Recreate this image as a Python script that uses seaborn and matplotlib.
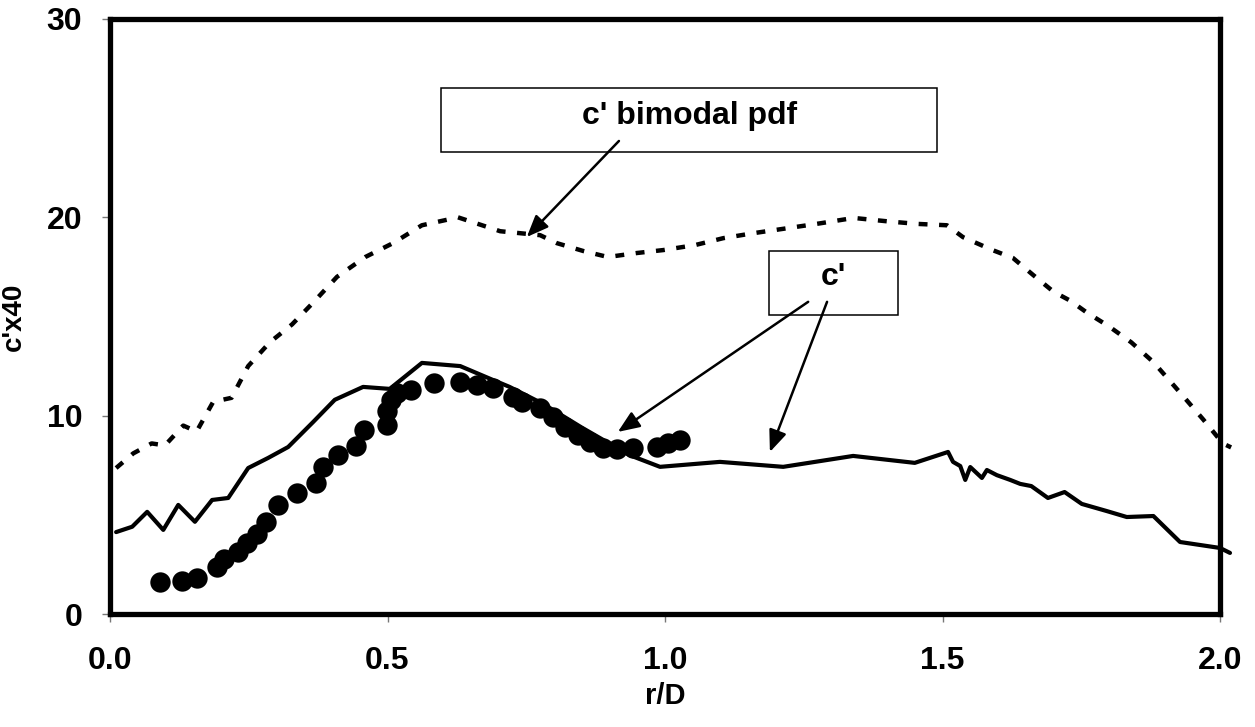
import matplotlib
matplotlib.use("Agg")
import matplotlib.pyplot as plt
import seaborn as sns
import pandas as pd
from matplotlib.patches import Rectangle

# ---- data ----
pdf_x = [0.011, 0.042, 0.075, 0.099, 0.132, 0.156, 0.186, 0.219, 0.249, 0.288,
         0.328, 0.366, 0.409, 0.46, 0.51, 0.562, 0.627, 0.703, 0.775, 0.805,
         0.853, 0.897, 0.949, 0.997, 1.054, 1.105, 1.159, 1.22, 1.28, 1.34,
         1.40, 1.454, 1.508, 1.537, 1.59, 1.627, 1.663, 1.70, 1.73, 1.76,
         1.80, 1.84, 1.88, 1.93, 1.97, 2.005, 2.02]
pdf_y = [7.36, 8.1, 8.6, 8.5, 9.5, 9.2, 10.7, 10.9, 12.5, 13.7,
         14.6, 15.7, 17.0, 18.0, 18.7, 19.6, 20.0, 19.3, 19.1, 18.7,
         18.3, 18.0, 18.2, 18.35, 18.6, 18.95, 19.2, 19.45, 19.7, 19.97,
         19.8, 19.67, 19.6, 19.0, 18.35, 17.95, 17.1, 16.25, 15.8, 15.2,
         14.5, 13.7, 12.7, 11.1, 9.8, 8.6, 8.4]

c_x = [0.011, 0.04, 0.067, 0.096, 0.123, 0.153, 0.184, 0.213, 0.249, 0.285,
       0.321, 0.366, 0.405, 0.456, 0.504, 0.562, 0.631, 0.69, 0.72, 0.78,
       0.85, 0.937, 0.991, 1.099, 1.213, 1.339, 1.45, 1.51, 1.519, 1.532,
       1.541, 1.55, 1.571, 1.58, 1.598, 1.622, 1.64, 1.66, 1.69, 1.72,
       1.751, 1.796, 1.832, 1.88, 1.928, 2.0, 2.018]
c_y = [4.13, 4.4, 5.15, 4.24, 5.5, 4.65, 5.75, 5.85, 7.36, 7.87,
       8.42, 9.68, 10.8, 11.45, 11.35, 12.66, 12.5, 11.8, 11.45, 10.6,
       9.4, 8.0, 7.42, 7.67, 7.42, 7.97, 7.62, 8.17, 7.67, 7.46,
       6.76, 7.41, 6.86, 7.26, 7.0, 6.76, 6.56, 6.45, 5.85, 6.15,
       5.55, 5.19, 4.89, 4.94, 3.63, 3.33, 3.08]

dot_x = [0.09, 0.13, 0.157, 0.192, 0.206, 0.23, 0.246, 0.264, 0.281, 0.303,
         0.337, 0.372, 0.383, 0.41, 0.443, 0.458, 0.499, 0.499, 0.507, 0.517,
         0.542, 0.584, 0.63, 0.661, 0.69, 0.726, 0.742, 0.775, 0.799, 0.82,
         0.843, 0.865, 0.889, 0.913, 0.942, 0.985, 1.006, 1.027]
dot_y = [1.61, 1.66, 1.8, 2.37, 2.77, 3.13, 3.58, 4.03, 4.64, 5.5,
         6.1, 6.6, 7.41, 8.0, 8.47, 9.3, 9.53, 10.24, 10.8, 11.14,
         11.3, 11.65, 11.7, 11.55, 11.4, 10.95, 10.7, 10.4, 9.93, 9.43,
         9.03, 8.67, 8.37, 8.32, 8.37, 8.42, 8.62, 8.77]

x_ticks = [0.0, 0.5, 1.0, 1.5, 2.0]
y_ticks = [0, 10, 20, 30]

# ---- style ----
sns.set_theme(style="white")
plt.rcParams['font.family'] = ['Liberation Sans', 'DejaVu Sans']
plt.rcParams['font.weight'] = 'bold'
plt.rcParams['text.color'] = 'black'
plt.rcParams['axes.labelcolor'] = 'black'
plt.rcParams['xtick.labelcolor'] = 'black'
plt.rcParams['ytick.labelcolor'] = 'black'

fig = plt.figure(figsize=(12.55, 7.27), dpi=100)
ax = fig.add_axes([110/1255, 1-614/727, (1220-110)/1255, (614-19)/727])

df_pdf = pd.DataFrame({"x": pdf_x, "y": pdf_y})
df_c = pd.DataFrame({"x": c_x, "y": c_y})
df_d = pd.DataFrame({"x": dot_x, "y": dot_y})

sns.lineplot(data=df_pdf, x="x", y="y", ax=ax, color="black", lw=3.2,
             linestyle=(0, (2.0, 2.6)), sort=False, clip_on=False)
sns.lineplot(data=df_c, x="x", y="y", ax=ax, color="black", lw=3.0,
             sort=False, clip_on=False)
sns.scatterplot(data=df_d, x="x", y="y", ax=ax, color="black", s=215,
                edgecolor="black", linewidth=0, zorder=5)

ax.set_xlim(0, 2.0)
ax.set_ylim(0, 30)
ax.set_xticks(x_ticks)
ax.set_xticklabels([f"{v:.1f}" for v in x_ticks])
ax.set_yticks(y_ticks)
ax.set_yticklabels([str(v) for v in y_ticks])

for s in ax.spines.values():
    s.set_linewidth(3.8)
    s.set_color("black")

ax.tick_params(axis="both", which="major", direction="out", length=6,
               width=1, color="#777777", labelsize=23, labelcolor="black",
               bottom=True, left=True)
ax.tick_params(axis="x", pad=17)
ax.tick_params(axis="y", pad=14)
for lab in ax.get_xticklabels() + ax.get_yticklabels():
    lab.set_fontweight("bold")

ax.set_xlabel("r/D", fontsize=21, fontweight="bold", labelpad=4, color="black")
ax.set_ylabel("c'x40", fontsize=20, fontweight="bold", labelpad=14, color="black")

# annotation boxes
ax.add_patch(Rectangle((0.596, 23.3), 1.490-0.596, 26.53-23.3, fill=True,
                       facecolor="white", edgecolor="black", lw=1.1, zorder=6))
ax.text(1.045, 25.1, "c' bimodal pdf", ha="center", va="center",
        fontsize=23, fontweight="bold", zorder=7, color="black")
ax.add_patch(Rectangle((1.187, 15.08), 1.420-1.187, 18.3-15.08, fill=True,
                       facecolor="white", edgecolor="black", lw=1.1, zorder=6))
ax.text(1.303, 17.0, "c'", ha="center", va="center",
        fontsize=23, fontweight="bold", zorder=7, color="black")

arrow_kw = dict(arrowstyle="-|>,head_length=1.1,head_width=0.45", color="black",
                lw=1.8, shrinkA=0, shrinkB=0)
ax.annotate("", xy=(0.751, 19.01), xytext=(0.917, 23.85),
            arrowprops=arrow_kw, zorder=8)
ax.annotate("", xy=(0.915, 9.18), xytext=(1.258, 15.74),
            arrowprops=arrow_kw, zorder=8)
ax.annotate("", xy=(1.189, 8.17), xytext=(1.292, 15.74),
            arrowprops=arrow_kw, zorder=8)

fig.savefig("out.png", dpi=100)
